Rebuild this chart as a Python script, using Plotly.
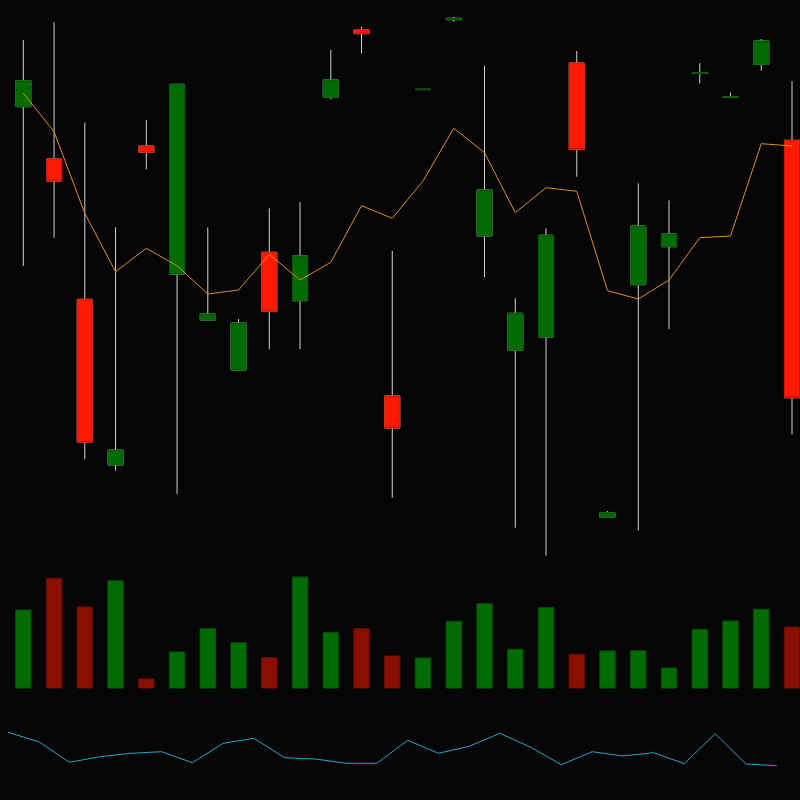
import plotly.graph_objects as go

# ---- data ----
idx = list(range(26))

open_ = [493.3, 441, 300.7, 135, 454, 326, 280, 230, 347.7, 299.3, 502.7, 570.3, 204,
         510.4, 580.3, 364, 249.7, 263, 537, 82.7, 315.3, 353.3, 526.5, 502.7, 535.7, 459.7]
high = [560, 577.7, 477.3, 372.7, 480, 516, 372.7, 281, 391.7, 398, 550, 573.3, 349,
        510.7, 583, 534.3, 301.7, 371.7, 549, 89, 416.7, 399.7, 536.7, 507.3, 561, 519]
low = [334, 362.3, 140.7, 129.3, 430.7, 106, 279.3, 229.3, 250.7, 250.7, 500.7, 546.7, 102.3,
       510.3, 578.3, 322.7, 72.3, 44.3, 423.3, 82, 69.3, 271, 516.7, 502.5, 529.3, 165.7]
close = [519.3, 419, 157.7, 150, 447.7, 515.7, 286, 277, 288.7, 344, 520, 566.3, 172,
         510.6, 581.7, 410, 286.7, 364.7, 450.7, 87.3, 374, 366, 527.3, 503.3, 559, 202.3]

ma = [506.7, 468.3, 386.7, 328.3, 351.7, 334.3, 306, 310, 345.7, 320, 337.7, 394.3, 381.7,
      419, 471.7, 447.3, 387.3, 412.3, 408.7, 309.3, 301, 320, 362.3, 364, 456.3, 454]

volume = [7800, 10970, 8100, 10730, 900, 3600, 5930, 4530, 3030, 11100, 5530, 5930, 3200,
          3000, 6670, 8430, 3870, 8030, 3370, 3700, 3730, 2000, 5870, 6700, 7870, 6100]

indicator = [47.7, 38.3, 17.7, 23.3, 26.7, 28.3, 17.3, 36.7, 41.7, 22.3, 21, 16.7, 16.7,
             39.7, 26.7, 33.7, 46.7, 32.7, 15.3, 28.3, 24, 27.3, 16.3, 46.3, 16, 14.3]

# ---- styles ----
BG = "#050506"
WICK = "#d2d2d2"
UP_FILL, UP_LINE = "#006b00", "#005a00"
DN_FILL, DN_LINE = "#ff1a00", "#d01400"
VOL_UP, VOL_DN = "#006b00", "#8a0f00"

body_hi = [max(o, c) for o, c in zip(open_, close)]
body_lo = [min(o, c) for o, c in zip(open_, close)]
vol_colors = [VOL_UP if c >= o else VOL_DN for o, c in zip(open_, close)]
vol_lines = ["#005500" if c >= o else "#6e0c00" for o, c in zip(open_, close)]
ind_x = [i - 0.5 for i in idx]

fig = go.Figure()

# volume bars
fig.add_trace(go.Bar(x=idx, y=volume, width=0.5, yaxis="y2",
                     marker=dict(color=vol_colors, line=dict(color=vol_lines, width=1)),
                     showlegend=False, hoverinfo="skip"))

# wicks (full range, light lines)
fig.add_trace(go.Candlestick(x=idx, open=open_, high=high, low=low, close=close,
                             increasing=dict(line=dict(color=WICK, width=1), fillcolor=WICK),
                             decreasing=dict(line=dict(color=WICK, width=1), fillcolor=WICK),
                             showlegend=False, hoverinfo="skip"))
# bodies
fig.add_trace(go.Candlestick(x=idx, open=open_, high=body_hi, low=body_lo, close=close,
                             increasing=dict(line=dict(color=UP_LINE, width=1), fillcolor=UP_FILL),
                             decreasing=dict(line=dict(color=DN_LINE, width=1), fillcolor=DN_FILL),
                             showlegend=False))

# moving average
fig.add_trace(go.Scatter(x=idx, y=ma, mode="lines",
                         line=dict(color="#e38c1c", width=1), showlegend=False))

# indicator line
fig.add_trace(go.Scatter(x=ind_x, y=indicator, mode="lines", yaxis="y3",
                         line=dict(color="#1fa9c9", width=1), showlegend=False))

fig.update_layout(
    width=800, height=800,
    margin=dict(l=0, r=0, t=0, b=0),
    paper_bgcolor=BG, plot_bgcolor=BG,
    xaxis=dict(range=[-0.758, 25.26], visible=False, showgrid=False, zeroline=False,
               rangeslider=dict(visible=False), fixedrange=True),
    yaxis=dict(range=[-200, 600], visible=False, showgrid=False, zeroline=False),
    yaxis2=dict(range=[-11200, 68800], overlaying="y", visible=False, showgrid=False, zeroline=False),
    yaxis3=dict(range=[-20, 780], overlaying="y", visible=False, showgrid=False, zeroline=False),
    showlegend=False,
)

fig.write_html("out.html")
